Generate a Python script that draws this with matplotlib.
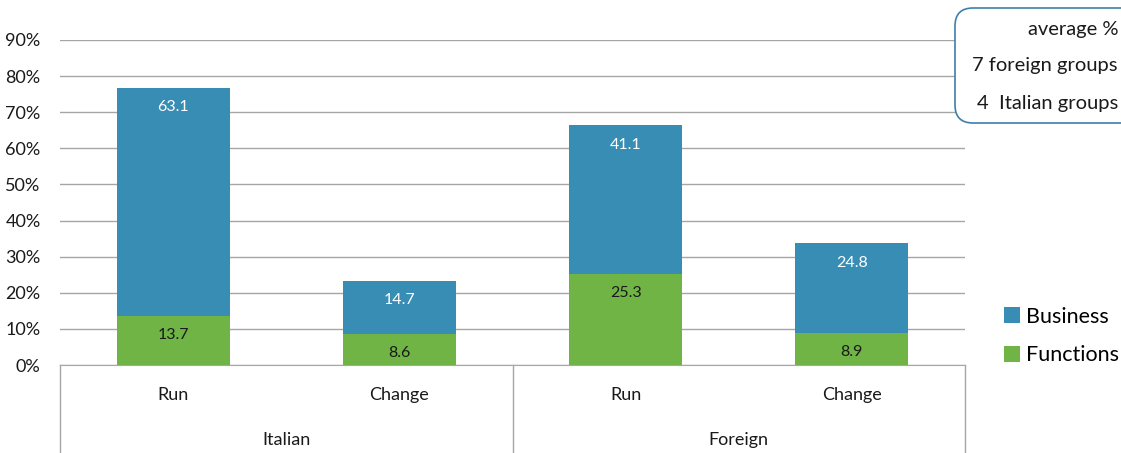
import matplotlib
matplotlib.use("Agg")
import matplotlib.pyplot as plt
from matplotlib.patches import FancyBboxPatch, Patch
from matplotlib.transforms import blended_transform_factory
import numpy as np

plt.rcParams['font.family'] = ['Lato', 'DejaVu Sans']

groups = ["Italian", "Foreign"]
kinds = ["Run", "Change"]
functions = [13.7, 8.6, 25.3, 8.9]
business = [63.1, 14.7, 41.1, 24.8]
series_names = ["Business", "Functions"]
box_lines = ["average %", "7 foreign groups", "4  Italian groups"]
yticks = list(range(0, 100, 10))

blue = "#388DB5"
green = "#6FB444"
grid_col = "#A6A6A6"
text_col = "#1a1a1a"

W, H = 1121, 453
fig = plt.figure(figsize=(W / 100, H / 100), dpi=100)
ax = fig.add_axes([60 / W, (H - 365) / H, (965 - 60) / W, (365 - 40) / H])

x = np.arange(len(functions))
ax.bar(x, functions, width=0.5, color=green, zorder=3)
ax.bar(x, business, width=0.5, bottom=functions, color=blue, zorder=3)

for i in range(len(x)):
    top_f = functions[i]
    top_b = functions[i] + business[i]
    ax.annotate(f"{functions[i]:.1f}", (x[i], top_f), xytext=(0, -14),
                textcoords="offset points", ha="center", va="center",
                fontsize=11.5, color=text_col, zorder=4)
    ax.annotate(f"{business[i]:.1f}", (x[i], top_b), xytext=(0, -14),
                textcoords="offset points", ha="center", va="center",
                fontsize=11.5, color="white", zorder=4)

ax.set_xlim(-0.5, len(x) - 0.5)
ax.set_ylim(0, 90)
ax.set_yticks(yticks)
ax.set_yticklabels([f"{t}%" for t in yticks], fontsize=13, color=text_col)
ax.yaxis.grid(True, color=grid_col, linewidth=1, zorder=0)
ax.tick_params(axis="y", length=0, pad=14)
ax.tick_params(axis="x", length=0, labelbottom=False)
for s in ["top", "right", "left"]:
    ax.spines[s].set_visible(False)
ax.spines["bottom"].set_color(grid_col)
ax.spines["bottom"].set_zorder(5)

# two-level category axis
tr = blended_transform_factory(ax.transData, fig.transFigure)
y0 = (H - 365) / H
for xv in [-0.5, 1.5, 3.5]:
    ax.plot([xv, xv], [0, y0], transform=tr, color=grid_col, lw=1, clip_on=False)
for i, xv in enumerate(x):
    ax.text(xv, (H - 395) / H, kinds[i % 2], transform=tr, ha="center",
            va="center", fontsize=13, color=text_col)
for g, name in enumerate(groups):
    ax.text(2 * g + 0.5, (H - 440) / H, name, transform=tr, ha="center",
            va="center", fontsize=13, color=text_col)

# legend
handles = [Patch(facecolor=blue), Patch(facecolor=green)]
fig.legend(handles, series_names, loc="center left",
           bbox_to_anchor=(995 / W, (H - 336) / H), frameon=False,
           fontsize=15.5, handlelength=0.75, handleheight=0.75,
           handletextpad=0.3, labelspacing=0.85, borderaxespad=0)

# note box, drawn on a pixel-scaled overlay so corners stay round
ov = fig.add_axes([0, 0, 1, 1], zorder=10)
ov.set_xlim(0, W)
ov.set_ylim(H, 0)
ov.axis("off")
ov.patch.set_alpha(0)
box = FancyBboxPatch((955, 8), 200, 115,
                     boxstyle="round,pad=0,rounding_size=18",
                     facecolor="white", edgecolor="#3F7FAA", lw=1.2)
ov.add_patch(box)
for j, line in enumerate(box_lines):
    ov.text(1118, 29 + 37 * j, line, ha="right", va="center",
            fontsize=14.5, color=text_col)

fig.savefig("out.png", dpi=100)
